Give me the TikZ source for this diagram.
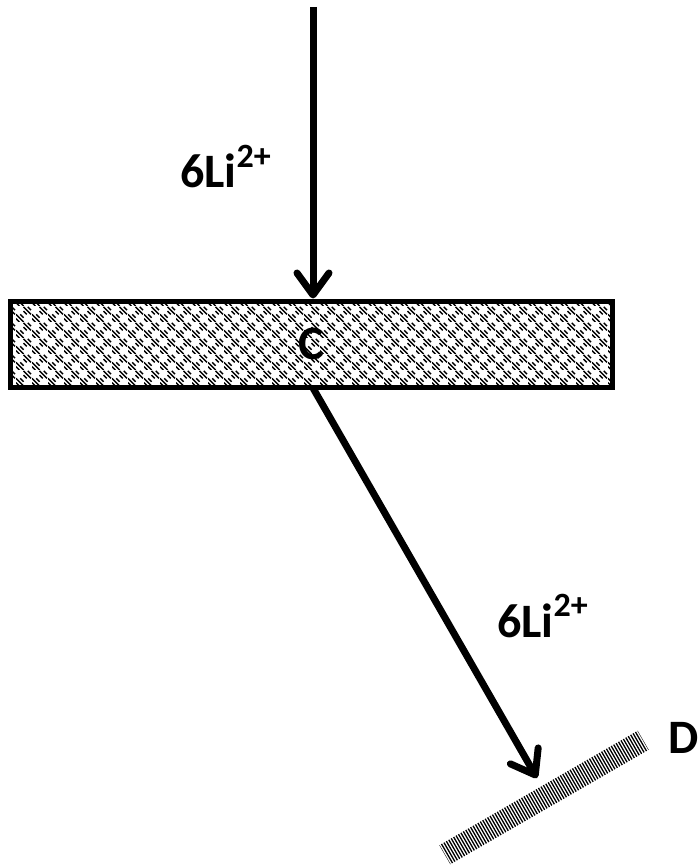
\documentclass[tikz,border=0pt]{standalone}
\usepackage{fontspec}
\setmainfont{Carlito}
\usetikzlibrary{arrows.meta,patterns,calc}
\pgfdeclarepatternformonly{hatchcheck}{\pgfpointorigin}{\pgfqpoint{16pt}{16pt}}{\pgfqpoint{16pt}{16pt}}{%
  \pgfsetlinewidth{1.5pt}%
  \pgfpathmoveto{\pgfqpoint{0pt}{3.5pt}}\pgfpathlineto{\pgfqpoint{3.5pt}{0pt}}%
  \pgfpathmoveto{\pgfqpoint{0pt}{8pt}}\pgfpathlineto{\pgfqpoint{8pt}{0pt}}%
  \pgfpathmoveto{\pgfqpoint{4.5pt}{8pt}}\pgfpathlineto{\pgfqpoint{8pt}{4.5pt}}%
  \pgfpathmoveto{\pgfqpoint{8pt}{11.5pt}}\pgfpathlineto{\pgfqpoint{11.5pt}{8pt}}%
  \pgfpathmoveto{\pgfqpoint{8pt}{16pt}}\pgfpathlineto{\pgfqpoint{16pt}{8pt}}%
  \pgfpathmoveto{\pgfqpoint{12.5pt}{16pt}}\pgfpathlineto{\pgfqpoint{16pt}{12.5pt}}%
  \pgfusepath{stroke}%
}
\newcommand{\supsc}[1]{\raisebox{0.42em}{\fontsize{34}{34}\selectfont #1}}
\tikzset{
  lbl/.style={font=\fontsize{48}{48}\selectfont\bfseries, inner sep=0pt},
  beam/.style={line width=7pt, -{Straight Barb[length=22pt,width=32pt,line width=7pt,round]}},
  target/.style={draw, line width=5pt, pattern=hatchcheck, minimum width=602pt, minimum height=86pt, inner sep=0pt, font=\fontsize{48}{48}\selectfont\bfseries},
}
\begin{document}
\begin{tikzpicture}[x=1pt,y=-1pt]
\useasboundingbox (0,0) rectangle (700,866);
\node[target] (C) at (311,344) {C};
\coordinate (src) at (313,7);
\draw[beam] (src) -- (src |- C.north);
\node[lbl, anchor=base west] (l1) at (180,188) {6Li\supsc{2+}};
\coordinate (out) at (313,388);
\coordinate (tip) at (537,778);
\draw[beam] (out) -- (tip);
\node[lbl, anchor=base west] (l2) at (497,637) {6Li\supsc{2+}};
\begin{scope}[shift={(544,797.5)}, rotate=30]
  \coordinate (det) at (0,0);
  \clip (-114.5,-11) rectangle (114.5,11);
  \foreach \k in {-41,...,41} {
    \draw[line width=1.3pt] (\k*2.8,-12) -- (\k*2.8,12);
  }
\end{scope}
\node[lbl, anchor=base east] (D) at (699,753) {D};
\end{tikzpicture}
\end{document}
